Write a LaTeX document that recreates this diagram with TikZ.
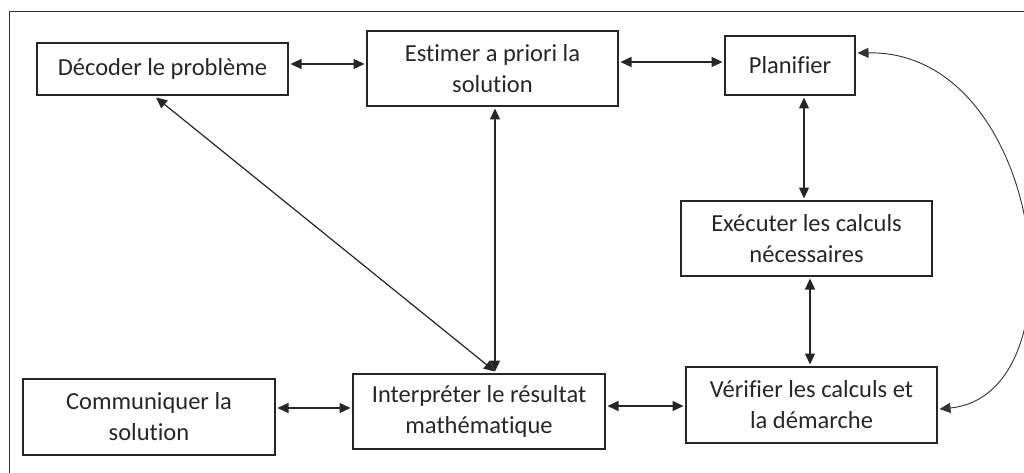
\documentclass[tikz,border=0pt]{standalone}
\usepackage{fontspec}
\setmainfont[Ligatures=NoCommon]{Carlito}
\usetikzlibrary{arrows.meta}
\begin{document}
\begin{tikzpicture}[x=1pt,y=-1pt,
  box/.style={draw=black!85,line width=1.2pt,inner sep=0pt,align=center,
    font=\fontsize{24.5}{31}\selectfont,text=black!85,outer sep=2.5pt},
  link/.style={draw=black!85,line width=1.2pt,
    {Triangle[length=11pt,width=10pt]}-{Triangle[length=11pt,width=10pt]}},
  curvelink/.style={draw=black!80,line width=0.9pt,
    {Triangle[length=11pt,width=10pt]}-{Triangle[length=11pt,width=10pt]}}]
\useasboundingbox (0,0) rectangle (1024,473);
% outer frame (top and left edges)
\draw[black!80,line width=1pt] (9,480) -- (9,12) -- (1030,12);

% steps
\node[box,minimum width=251pt,minimum height=52pt] (dec) at (162.5,69) {Décoder le problème};
\node[box,minimum width=251pt,minimum height=75pt] (est) at (492.5,68.5) {Estimer a priori la\\solution};
\node[box,minimum width=130pt,minimum height=59pt] (plan) at (790,65.5) {Planifier};
\node[box,minimum width=251pt,minimum height=75pt] (exe) at (806.5,238.5) {Exécuter les calculs\\nécessaires};
\node[box,minimum width=251pt,minimum height=76pt] (ver) at (811.5,405) {Vérifier les calculs et\\la démarche};
\node[box,minimum width=252pt,minimum height=75pt] (interp) at (479,411.5) {Interpréter le résultat\\mathématique};
\node[box,minimum width=252pt,minimum height=76pt] (comm) at (149,417) {Communiquer la\\solution};

% connectors
\draw[link] (dec.east |- 0,64) -- (est.west |- 0,64);
\draw[link] (est.east |- 0,62) -- (plan.west |- 0,62);
\draw[link] (804,0 |- plan.south) -- (804,0 |- exe.north);
\draw[link] (810,0 |- exe.south) -- (810,0 |- ver.north);
\draw[link] (495,0 |- est.south) -- (495,0 |- interp.north);
\draw[link] (156,0 |- dec.south) -- (495,0 |- interp.north);
\draw[link] (comm.east |- 0,408) -- (interp.west |- 0,408);
\draw[link] (interp.east |- 0,406) -- (ver.west |- 0,406);
\draw[curvelink] (plan.east |- 0,53) .. controls (1045,50) and (1085,395) .. (ver.east |- 0,409);
\end{tikzpicture}
\end{document}
